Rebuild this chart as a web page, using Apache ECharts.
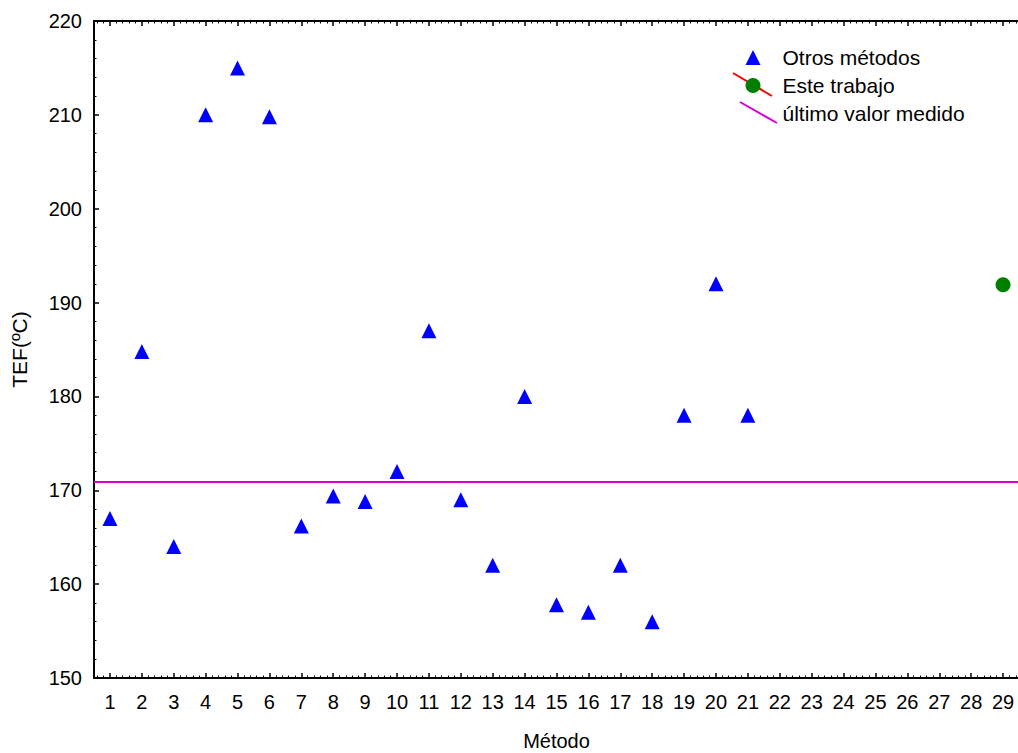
<!DOCTYPE html>
<html>
<head>
<meta charset="utf-8">
<script src="https://cdn.jsdelivr.net/npm/echarts@6/dist/echarts.min.js"></script>
<style>
html,body{margin:0;padding:0;background:#fff;}
#chart{width:1018px;height:753px;}
</style>
</head>
<body>
<div id="chart"></div>
<script>
// ---- data ----
const categories = [1,2,3,4,5,6,7,8,9,10,11,12,13,14,15,16,17,18,19,20,21,22,23,24,25,26,27,28,29];
const otrosMetodo = [1,2,3,4,5,6,7,8,9,10,11,12,13,14,15,16,17,18,19,20,21];
const otrosValores = [167, 184.8, 164, 210, 215, 209.8, 166.2, 169.4, 168.8, 172, 187, 169, 162, 180, 157.8, 157, 162, 156, 178, 192, 178];
const esteMetodo = [29];
const esteValores = [191.9];
const ultimoValor = 170.9;
const yTickLabels = [150, 160, 170, 180, 190, 200, 210, 220];
const seriesNames = ['Otros métodos', 'Este trabajo', 'último valor medido'];
const axisNames = { x: 'Método', y: 'TEF(ºC)' };

// minor tick positions between category centres
const minorX = [];
categories.forEach(c => { [-0.4, -0.2, 0.2, 0.4].forEach(d => minorX.push(+(c + d).toFixed(2))); });

const FONT = "'Liberation Sans', Arial, sans-serif";
const chart = echarts.init(document.getElementById('chart'), null, { renderer: 'svg' });

const xMin = categories[0] - 0.5, xMax = categories[categories.length - 1] + 0.5;
const lineBlack = { color: '#000', width: 2 };

function xAxisDef(pos, major, showLine, showLabel) {
  return {
    type: 'value', position: pos, min: xMin, max: xMax,
    axisLine: { show: showLine, lineStyle: lineBlack },
    axisTick: { show: true, inside: true, length: major ? 5 : 2.5, customValues: major ? categories : minorX,
      lineStyle: { color: '#000', width: major ? 1.5 : 1 } },
    axisLabel: { show: showLabel, customValues: categories, color: '#000', fontSize: 20, fontFamily: FONT, margin: 14 },
    splitLine: { show: false }
  };
}

const xAxes = [
  Object.assign(xAxisDef('bottom', true, true, true), { name: axisNames.x, nameLocation: 'middle', nameGap: 53,
    nameTextStyle: { color: '#000', fontSize: 20, fontFamily: FONT } }),
  xAxisDef('bottom', false, false, false),
  xAxisDef('top', true, true, false),
  xAxisDef('top', false, false, false)
];

const option = {
  animation: false,
  backgroundColor: '#fff',
  grid: { left: 94, right: -1, top: 21, bottom: 75, containLabel: false, outerBoundsMode: 'none' },
  xAxis: xAxes,
  yAxis: [{
    type: 'value', min: yTickLabels[0], max: yTickLabels[yTickLabels.length - 1], interval: 10,
    name: axisNames.y, nameLocation: 'middle', nameGap: 64,
    nameTextStyle: { color: '#000', fontSize: 21, fontFamily: FONT },
    axisLine: { show: true, lineStyle: lineBlack },
    axisTick: { show: true, inside: true, length: 5, lineStyle: { color: '#000', width: 1.5 } },
    minorTick: { show: true, splitNumber: 5, length: 2.5, lineStyle: { color: '#000', width: 1 } },
    axisLabel: { color: '#000', fontSize: 20, fontFamily: FONT, margin: 12 },
    splitLine: { show: false }
  }],
  legend: {
    orient: 'vertical', left: 745.5, top: 47, padding: 0,
    itemWidth: 15, itemHeight: 15, itemGap: 7, selectedMode: false,
    textStyle: { color: '#000', fontSize: 21, fontFamily: FONT, lineHeight: 19, padding: [0, 0, 0, 17] },
    data: [
      { name: seriesNames[0], icon: 'triangle', itemStyle: { color: '#0000ff' } },
      { name: seriesNames[1], icon: 'circle', itemStyle: { color: '#008000' } },
      { name: seriesNames[2], icon: 'rect', itemStyle: { opacity: 0 } }
    ]
  },
  graphic: [
    { type: 'line', z: 0, zlevel: 0, shape: { x1: 733, y1: 73, x2: 772, y2: 96 }, style: { stroke: '#ff0000', lineWidth: 2 } },
    { type: 'line', z: 0, zlevel: 0, shape: { x1: 740, y1: 102, x2: 777, y2: 123 }, style: { stroke: '#d400d4', lineWidth: 2 } }
  ],
  series: [
    {
      name: seriesNames[0], type: 'scatter', symbol: 'triangle', symbolSize: 15,
      itemStyle: { color: '#0000ff', opacity: 1 },
      data: otrosMetodo.map((m, i) => [m, otrosValores[i]]), z: 3
    },
    {
      name: seriesNames[1], type: 'scatter', symbol: 'circle', symbolSize: 15,
      itemStyle: { color: '#008000', opacity: 1 },
      data: esteMetodo.map((m, i) => [m, esteValores[i]]), z: 3
    },
    {
      name: seriesNames[2], type: 'line', data: [], symbol: 'none',
      itemStyle: { color: '#d400d4' },
      markLine: { silent: true, symbol: 'none', label: { show: false },
        lineStyle: { color: '#d400d4', width: 2, type: 'solid' },
        data: [{ yAxis: ultimoValor }] }
    }
  ]
};
chart.setOption(option);
</script>
</body>
</html>
